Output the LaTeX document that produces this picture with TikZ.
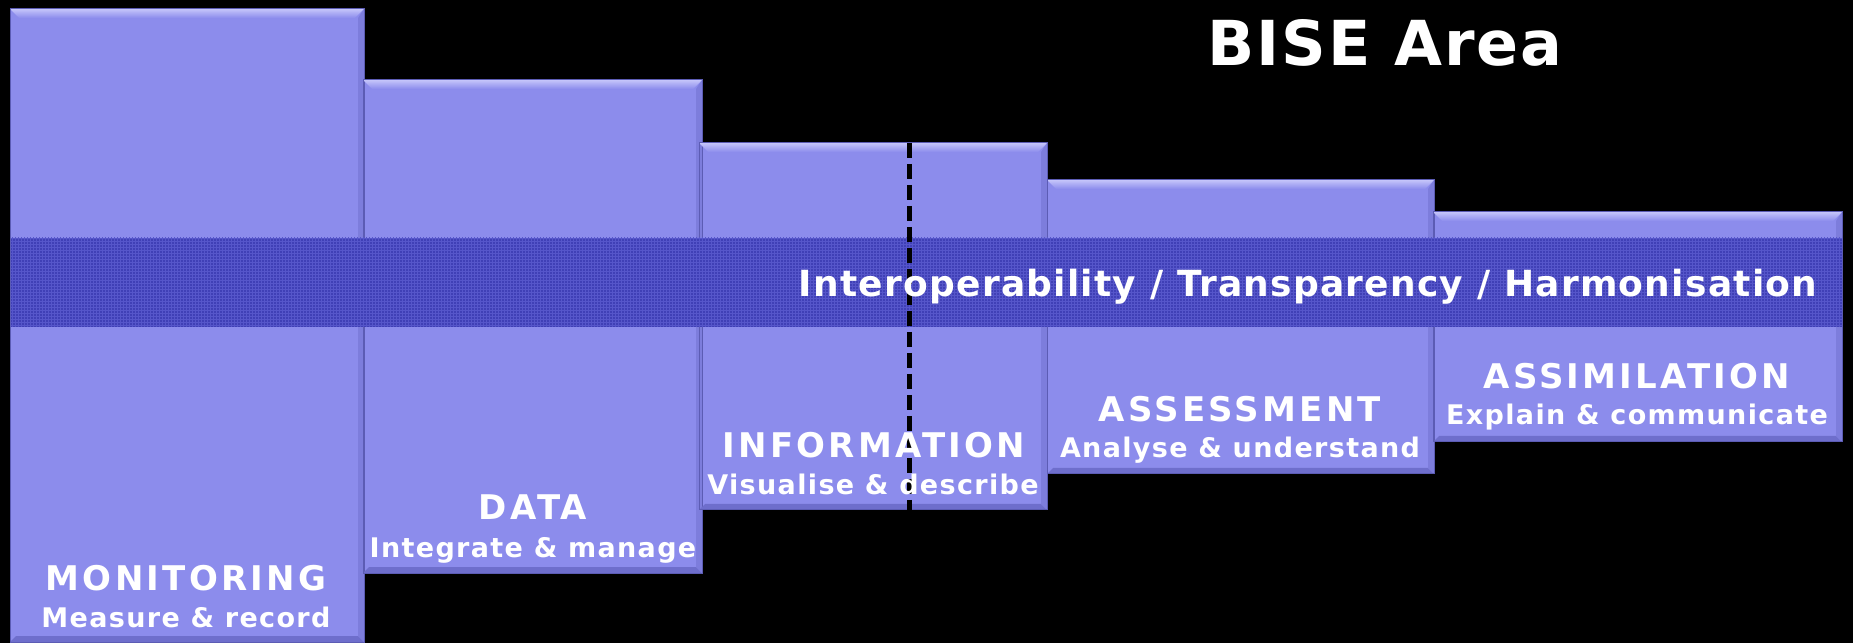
\documentclass[tikz,border=0pt]{standalone}
\usepackage{fontspec}
\setmainfont{DejaVu Sans}
\newfontfamily\namefont[LetterSpace=9.5]{DejaVu Sans}
\newfontfamily\taskfont[LetterSpace=5]{DejaVu Sans}
\newfontfamily\bandfont[LetterSpace=3.5]{DejaVu Sans}
\newfontfamily\titlefont[LetterSpace=3.2]{DejaVu Sans}
\usepackage{tikz}
\usetikzlibrary{patterns}
\definecolor{boxblue}{HTML}{8C8CEC}
\definecolor{bevlight}{HTML}{C4C4FA}
\definecolor{bevdark}{HTML}{6E6ECC}
\definecolor{bevside}{HTML}{7D7DDC}
\definecolor{edgeblue}{HTML}{5C5CB4}
\definecolor{bandblue}{HTML}{4040B6}
\definecolor{bandgrid}{HTML}{5656CA}
\tikzstyle{stage}=[fill=boxblue, draw=edgeblue, line width=1pt, inner sep=0pt, outer sep=0pt]
\tikzstyle{band}=[inner sep=0pt, outer sep=0pt, minimum width=1831pt, minimum height=89pt]
\tikzstyle{stagename}=[text=white, anchor=base, inner sep=0pt, font=\namefont\fontsize{34}{34}\bfseries]
\tikzstyle{stagetask}=[text=white, anchor=base, inner sep=0pt, font=\taskfont\fontsize{27}{27}\bfseries]

\begin{document}
\begin{tikzpicture}[x=1pt, y=1pt]
        \fill[black] (0,0) rectangle (1853,643);
        \useasboundingbox (0,0) rectangle (1853,643);
        \node[stage, minimum width=354pt, minimum height=633pt] (mon) at (187, 317.5) {};
        \node[stage, minimum width=339pt, minimum height=493pt] (data) at (532.5, 316.5) {};
        \node[stage, minimum width=348pt, minimum height=367pt] (info) at (873, 316.5) {};
        \node[stage, minimum width=387pt, minimum height=294pt] (assess) at (1240.5, 316) {};
        \node[stage, minimum width=409pt, minimum height=230pt] (assim) at (1637.5, 316) {};
        \foreach \b in {mon, data, info, assess, assim} {
            \shade[top color=bevlight, bottom color=boxblue] (\b.north west) -- (\b.north east)
                -- ([xshift=-9pt, yshift=-9pt]\b.north east) -- ([xshift=9pt, yshift=-9pt]\b.north west) -- cycle;
            \fill[bevdark] (\b.south west) -- (\b.south east)
                -- ([xshift=-6pt, yshift=6pt]\b.south east) -- ([xshift=6pt, yshift=6pt]\b.south west) -- cycle;
            \fill[bevside] (\b.north east) -- (\b.south east)
                -- ([xshift=-6pt, yshift=6pt]\b.south east) -- ([xshift=-6pt, yshift=-9pt]\b.north east) -- cycle;
            \draw[edgeblue, line width=1pt] (\b.north west) rectangle (\b.south east);
        }
        \node[band, fill=bandblue] (bandbg) at (926.5, 360.5) {};
        \node[band, pattern=grid, pattern color=bandgrid] (bandgrid) at (926.5, 360.5) {};
        \coordinate (cuttop) at (909, 500);
        \coordinate (cutbot) at (909, 133);
        \draw[black, line width=5pt, dash pattern=on 15pt off 6pt] (cuttop) -- (cutbot);
        \node[text=white, anchor=base, inner sep=0pt, font=\bandfont\fontsize{36}{36}\bfseries] (bandtext) at (1308, 346)
            {Interoperability / Transparency / Harmonisation};
        \node[text=white, anchor=base, inner sep=0pt, font=\titlefont\fontsize{62}{62}\bfseries] (title) at (1385, 577) {BISE Area};
        \node[stagename] (monname) at (186, 53) {MONITORING};
        \node[stagetask] (montask) at (186, 16) {Measure \& record};
        \node[stagename] (dataname) at (533, 123) {DATA};
        \node[stagetask] (datatask) at (533, 86) {Integrate \& manage};
        \node[stagename] (infoname) at (874, 185) {INFORMATION};
        \node[stagetask] (infotask) at (873, 148) {Visualise \& describe};
        \node[stagename] (assessname) at (1240, 221) {ASSESSMENT};
        \node[stagetask] (assesstask) at (1240, 185) {Analyse \& understand};
        \node[stagename] (assimname) at (1637, 254) {ASSIMILATION};
        \node[stagetask] (assimtask) at (1637, 218) {Explain \& communicate};
    \end{tikzpicture}
\end{document}
